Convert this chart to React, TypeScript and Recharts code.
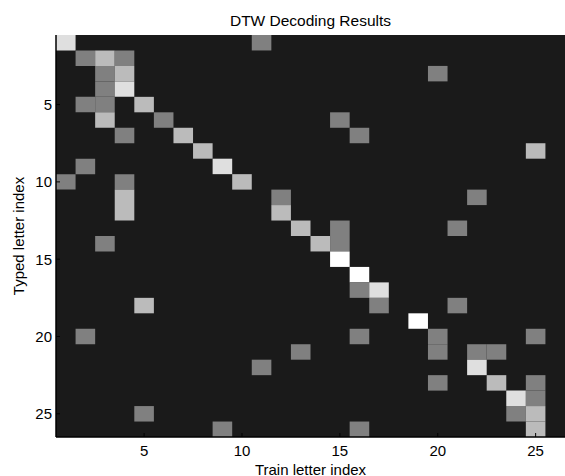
import React from 'react';
import { ScatterChart, Scatter, XAxis, YAxis, ReferenceArea, Label } from 'recharts';

// Intensity levels (0 = darkest, 4 = white) of the DTW decoding matrix.
// rows = typed letter index 1..26, columns = train letter index 1..26
const matrix: number[][] = [
  [3,0,0,0,0,0,0,0,0,0,1,0,0,0,0,0,0,0,0,0,0,0,0,0,0,0],
  [0,1,2,1,0,0,0,0,0,0,0,0,0,0,0,0,0,0,0,0,0,0,0,0,0,0],
  [0,0,1,2,0,0,0,0,0,0,0,0,0,0,0,0,0,0,0,1,0,0,0,0,0,0],
  [0,0,1,3,0,0,0,0,0,0,0,0,0,0,0,0,0,0,0,0,0,0,0,0,0,0],
  [0,1,1,0,2,0,0,0,0,0,0,0,0,0,0,0,0,0,0,0,0,0,0,0,0,0],
  [0,0,2,0,0,1,0,0,0,0,0,0,0,0,1,0,0,0,0,0,0,0,0,0,0,0],
  [0,0,0,1,0,0,2,0,0,0,0,0,0,0,0,1,0,0,0,0,0,0,0,0,0,0],
  [0,0,0,0,0,0,0,2,0,0,0,0,0,0,0,0,0,0,0,0,0,0,0,0,2,0],
  [0,1,0,0,0,0,0,0,3,0,0,0,0,0,0,0,0,0,0,0,0,0,0,0,0,0],
  [1,0,0,1,0,0,0,0,0,2,0,0,0,0,0,0,0,0,0,0,0,0,0,0,0,0],
  [0,0,0,2,0,0,0,0,0,0,0,1,0,0,0,0,0,0,0,0,0,1,0,0,0,0],
  [0,0,0,2,0,0,0,0,0,0,0,2,0,0,0,0,0,0,0,0,0,0,0,0,0,0],
  [0,0,0,0,0,0,0,0,0,0,0,0,2,0,1,0,0,0,0,0,1,0,0,0,0,0],
  [0,0,1,0,0,0,0,0,0,0,0,0,0,2,1,0,0,0,0,0,0,0,0,0,0,0],
  [0,0,0,0,0,0,0,0,0,0,0,0,0,0,4,0,0,0,0,0,0,0,0,0,0,0],
  [0,0,0,0,0,0,0,0,0,0,0,0,0,0,0,4,0,0,0,0,0,0,0,0,0,0],
  [0,0,0,0,0,0,0,0,0,0,0,0,0,0,0,1,3,0,0,0,0,0,0,0,0,0],
  [0,0,0,0,2,0,0,0,0,0,0,0,0,0,0,0,1,0,0,0,1,0,0,0,0,0],
  [0,0,0,0,0,0,0,0,0,0,0,0,0,0,0,0,0,0,4,0,0,0,0,0,0,0],
  [0,1,0,0,0,0,0,0,0,0,0,0,0,0,0,1,0,0,0,1,0,0,0,0,1,0],
  [0,0,0,0,0,0,0,0,0,0,0,0,1,0,0,0,0,0,0,1,0,1,1,0,0,0],
  [0,0,0,0,0,0,0,0,0,0,1,0,0,0,0,0,0,0,0,0,0,3,0,0,0,0],
  [0,0,0,0,0,0,0,0,0,0,0,0,0,0,0,0,0,0,0,1,0,0,2,0,1,0],
  [0,0,0,0,0,0,0,0,0,0,0,0,0,0,0,0,0,0,0,0,0,0,0,3,1,0],
  [0,0,0,0,1,0,0,0,0,0,0,0,0,0,0,0,0,0,0,0,0,0,0,1,2,0],
  [0,0,0,0,0,0,0,0,1,0,0,0,0,0,0,1,0,0,0,0,0,0,0,0,2,0],
];

const xTicks = [5, 10, 15, 20, 25];
const yTicks = [5, 10, 15, 20, 25];
const levelColors = ['#1a1a1a', '#808080', '#bbbbbb', '#dfdfdf', '#ffffff'];

const titleText = 'DTW Decoding Results';
const xTitle = 'Train letter index';
const yTitle = 'Typed letter index';

const FONT = '"Liberation Sans", Arial, sans-serif';
const FS = 15;
const TITLE_FS = 15.5;

type Cell = { x: number; y: number; v: number };
const cells: Cell[] = [];
matrix.forEach((row, r) => row.forEach((v, c) => cells.push({ x: c + 1, y: r + 1, v })));
const litCells = cells.filter((c) => c.v > 0);

const nCols = matrix[0].length;
const nRows = matrix.length;

export default function App() {
  return (
    <div style={{ position: 'absolute', left: 0, top: 0 }}>
      <ScatterChart width={565} height={476} margin={{ top: 35, right: 0, bottom: 0, left: 0 }}>
        <XAxis
          xAxisId="b"
          type="number"
          dataKey="x"
          domain={[0.5, nCols + 0.5]}
          ticks={xTicks}
          allowDataOverflow
          orientation="bottom"
          height={39}
          tickSize={-4}
          tickMargin={12}
          axisLine={{ stroke: '#000', strokeWidth: 1.5 }}
          tickLine={{ stroke: '#000' }}
          tick={{ fill: '#000', fontSize: FS, fontFamily: FONT }}
        >
          <Label
            content={(p: any) => {
              const vb = p.viewBox || {};
              const cx = vb.x + vb.width / 2;
              return (
                <g>
                  <text x={cx} y={vb.y + 38} textAnchor="middle" fontSize={FS} fontFamily={FONT} fill="#000">
                    {xTitle}
                  </text>
                  <text x={cx} y={26} textAnchor="middle" fontSize={TITLE_FS} fontFamily={FONT} fill="#000">
                    {titleText}
                  </text>
                </g>
              );
            }}
          />
        </XAxis>
        <XAxis
          xAxisId="t"
          type="number"
          dataKey="x"
          domain={[0.5, nCols + 0.5]}
          ticks={xTicks}
          allowDataOverflow
          orientation="top"
          height={0}
          tickSize={-4}
          tickFormatter={() => ''}
          axisLine={{ stroke: '#333' }}
          tickLine={{ stroke: '#000' }}
        />
        <YAxis
          yAxisId="l"
          type="number"
          dataKey="y"
          domain={[0.5, nRows + 0.5]}
          ticks={yTicks}
          reversed
          allowDataOverflow
          orientation="left"
          width={56}
          tickSize={-4}
          tickMargin={8}
          axisLine={{ stroke: '#000', strokeWidth: 1.5 }}
          tickLine={{ stroke: '#000' }}
          tick={{ fill: '#000', fontSize: FS, fontFamily: FONT }}
        >
          <Label
            content={(p: any) => {
              const vb = p.viewBox || {};
              const cx = 24;
              const cy = vb.y + vb.height / 2;
              return (
                <text x={cx} y={cy} transform={`rotate(-90 ${cx} ${cy})`} textAnchor="middle" fontSize={FS} fontFamily={FONT} fill="#000">
                  {yTitle}
                </text>
              );
            }}
          />
        </YAxis>
        <YAxis
          yAxisId="r"
          type="number"
          dataKey="y"
          domain={[0.5, nRows + 0.5]}
          ticks={yTicks}
          reversed
          allowDataOverflow
          orientation="right"
          width={0}
          tickSize={-4}
          tickFormatter={() => ''}
          axisLine={{ stroke: '#000' }}
          tickLine={{ stroke: '#000' }}
        />
        <ReferenceArea
          xAxisId="b"
          yAxisId="l"
          x1={0.5}
          x2={nCols + 0.5}
          y1={0.5}
          y2={nRows + 0.5}
          fill={levelColors[0]}
          fillOpacity={1}
          stroke="none"
          ifOverflow="visible"
        />
        {litCells.map((c) => (
          <ReferenceArea
            key={`${c.x}-${c.y}`}
            xAxisId="b"
            yAxisId="l"
            x1={c.x - 0.5}
            x2={c.x + 0.5}
            y1={c.y - 0.5}
            y2={c.y + 0.5}
            fill={levelColors[c.v]}
            fillOpacity={1}
            stroke="none"
            ifOverflow="visible"
          />
        ))}
        <Scatter
          xAxisId="b"
          yAxisId="l"
          data={cells}
          isAnimationActive={false}
          shape={() => <g />}
        />
      </ScatterChart>
    </div>
  );
}
